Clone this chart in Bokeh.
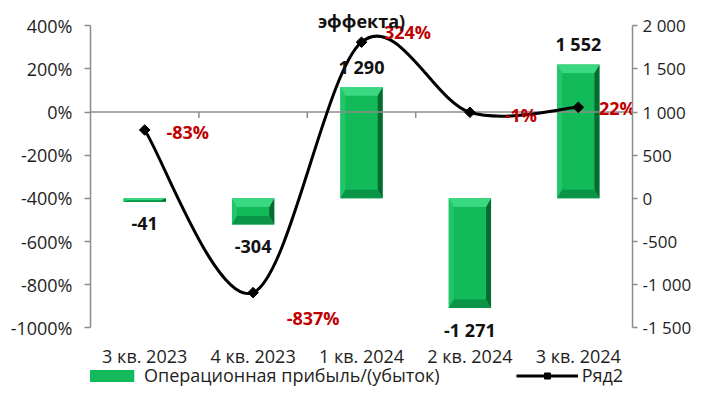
import numpy as np
from bokeh.plotting import figure
from bokeh.models import (Range1d, LinearAxis, FixedTicker, PrintfTickFormatter,
                          ColumnDataSource, Legend, LegendItem)
from bokeh.core.properties import value
from bokeh.embed import file_html
from bokeh.resources import INLINE

# ---------------- data ----------------
categories = ["3 кв. 2023", "4 кв. 2023", "1 кв. 2024", "2 кв. 2024", "3 кв. 2024"]
operating_profit = [-41, -304, 1290, -1271, 1552]
ratio_pct = [-83, -837, 324, -1, 22]
left_ticks = [-1000, -800, -600, -400, -200, 0, 200, 400]
right_ticks = [-1500, -1000, -500, 0, 500, 1000, 1500, 2000]
title_text = "эффекта)"
bar_series_name = "Операционная прибыль/(убыток)"
line_series_name = "Ряд2"

# ---------------- layout / styles ----------------
FONT = "Open Sans"
W, H = 694, 387
LEFT_B, FRAME_W = 90, 544
FRAME_H = H
PX_TOP_TICK, PX_BOT_TICK = 25.3, 327.3      # pixel rows of the first/last tick
PX_CAT_LABEL = 355                           # pixel row of the category labels
ratio_label_dx = [43, 60, 46, 51, 39]
ratio_label_dy = [2, 25, -10, 3, 1]
AXIS_GRAY = "#8C8C8C"
TXT = "#1E1E1E"

n = len(categories)
xs = list(range(n))

lscale = (PX_BOT_TICK - PX_TOP_TICK) / (left_ticks[-1] - left_ticks[0])     # px per %
rscale = (PX_BOT_TICK - PX_TOP_TICK) / (right_ticks[-1] - right_ticks[0])   # px per unit
l_top = left_ticks[-1] + PX_TOP_TICK / lscale
l_bot = left_ticks[0] - (FRAME_H - PX_BOT_TICK) / lscale
r_top = right_ticks[-1] + PX_TOP_TICK / rscale
r_bot = right_ticks[0] - (FRAME_H - PX_BOT_TICK) / rscale

p = figure(width=W, height=H, x_range=Range1d(-0.5, n - 0.5),
           y_range=Range1d(l_bot, l_top), x_axis_location=None,
           output_backend="svg", toolbar_location=None,
           min_border_left=LEFT_B, min_border_right=W - LEFT_B - FRAME_W,
           min_border_top=0, min_border_bottom=0, outline_line_color=None)
p.extra_y_ranges = {"right": Range1d(r_bot, r_top)}
p.xgrid.visible = False
p.ygrid.visible = False

# left axis
ya = p.yaxis[0]
ya.ticker = FixedTicker(ticks=left_ticks)
ya.bounds = (left_ticks[0], left_ticks[-1])
ya.formatter = PrintfTickFormatter(format="%d%%")
ya.axis_line_color = AXIS_GRAY
ya.axis_line_width = 1.5
ya.major_tick_line_color = AXIS_GRAY
ya.major_tick_line_width = 1.5
ya.major_tick_out = 6
ya.major_tick_in = 0
ya.minor_tick_line_color = None
ya.major_label_standoff = 12
ya.major_label_text_font = FONT
ya.major_label_text_font_size = "18px"
ya.major_label_text_color = TXT

# right axis
ra = LinearAxis(y_range_name="right", ticker=FixedTicker(ticks=right_ticks))
ra.bounds = (right_ticks[0], right_ticks[-1])
ra.major_label_overrides = {t: f"{t:,}".replace(",", " ") for t in right_ticks}
ra.axis_line_color = AXIS_GRAY
ra.axis_line_width = 1.5
ra.major_tick_line_color = AXIS_GRAY
ra.major_tick_line_width = 1.5
ra.major_tick_out = 5
ra.major_tick_in = 0
ra.minor_tick_line_color = None
ra.major_label_standoff = 5
ra.major_label_text_font = FONT
ra.major_label_text_font_size = "17px"
ra.major_label_text_color = TXT
p.add_layout(ra, "right")

# ---------------- bars (right axis) ----------------
BW = 0.39
bars = p.vbar(x=xs, top=operating_profit, bottom=0, width=BW, y_range_name="right",
              fill_color="#12BA5A", line_color=None)

bx = 0.046
by_full = 100.0
top_x, top_y, bot_x, bot_y, lef_x, lef_y, rig_x, rig_y = ([] for _ in range(8))
for i, v in zip(xs, operating_profit):
    x0, x1 = i - BW / 2, i + BW / 2
    y0, y1 = min(0, v), max(0, v)
    by = min(by_full, (y1 - y0) / 2)
    top_x.append([x0, x1, x1 - bx, x0 + bx]); top_y.append([y1, y1, y1 - by, y1 - by])
    bot_x.append([x0, x1, x1 - bx, x0 + bx]); bot_y.append([y0, y0, y0 + by, y0 + by])
    lef_x.append([x0, x0, x0 + bx, x0 + bx]); lef_y.append([y0, y1, y1 - by, y0 + by])
    rig_x.append([x1, x1, x1 - bx, x1 - bx]); rig_y.append([y0, y1, y1 - by, y0 + by])
p.patches(lef_x, lef_y, fill_color="#22C66A", line_color=None, y_range_name="right")
p.patches(rig_x, rig_y, fill_color="#076A31", line_color=None, y_range_name="right")
p.patches(top_x, top_y, fill_color="#3AD881", line_color=None, y_range_name="right")
p.patches(bot_x, bot_y, fill_color="#0A9447", line_color=None, y_range_name="right")

# zero line of the category axis with boundary ticks
p.segment(x0=[-0.5], y0=[0], x1=[n - 0.5], y1=[0], line_color=AXIS_GRAY, line_width=1.5)
bounds = [i + 0.5 for i in xs[:-1]]
p.segment(x0=bounds, y0=[0] * len(bounds), x1=bounds,
          y1=[-6 / lscale] * len(bounds), line_color=AXIS_GRAY, line_width=1.5)

# category labels (the category axis has its labels at the bottom of the chart)
p.text(x=xs, y=[l_top - PX_CAT_LABEL / lscale] * n, text=categories,
       text_align="center", text_baseline="middle", text_font=value(FONT),
       text_font_size="18px", text_color=TXT)

# ---------------- smoothed line (left axis) ----------------
xa_ = np.array(xs, float)
ya_ = np.array(ratio_pct, float)
xp = np.concatenate([[xa_[0]], xa_, [xa_[-1]]])
yp = np.concatenate([[ya_[0]], ya_, [ya_[-1]]])
bz = dict(x0=[], y0=[], x1=[], y1=[], cx0=[], cy0=[], cx1=[], cy1=[])
for i in range(n - 1):
    bz["x0"].append(xa_[i]); bz["y0"].append(ya_[i])
    bz["x1"].append(xa_[i + 1]); bz["y1"].append(ya_[i + 1])
    bz["cx0"].append(xa_[i] + (xp[i + 2] - xp[i]) / 6)
    bz["cy0"].append(ya_[i] + (yp[i + 2] - yp[i]) / 6)
    bz["cx1"].append(xa_[i + 1] - (xp[i + 3] - xp[i + 1]) / 6)
    bz["cy1"].append(ya_[i + 1] - (yp[i + 3] - yp[i + 1]) / 6)
p.bezier(source=ColumnDataSource(bz), x0="x0", y0="y0", x1="x1", y1="y1",
         cx0="cx0", cy0="cy0", cx1="cx1", cy1="cy1", line_color="black", line_width=3)
marks = p.scatter(x=xs, y=ratio_pct, marker="square", angle=np.pi / 4, size=7.5,
                  fill_color="black", line_color="black")
legend_line = p.line(x=xs[:1], y=ratio_pct[:1], line_color="black", line_width=3)

# ---------------- labels ----------------
bar_src = ColumnDataSource(dict(
    x=xs, y=operating_profit,
    t=[f"{v:,}".replace(",", " ") for v in operating_profit],
    dy=[22 if v < 0 else -20 for v in operating_profit]))
p.text(x="x", y="y", text="t", y_offset="dy", source=bar_src, y_range_name="right",
       text_align="center", text_baseline="middle", text_font=value(FONT),
       text_font_style="bold", text_font_size="18px", text_color="#111111")

rat_src = ColumnDataSource(dict(
    x=xs, y=ratio_pct, t=[f"{v}%" for v in ratio_pct],
    dx=ratio_label_dx, dy=ratio_label_dy))
p.text(x="x", y="y", text="t", x_offset="dx", y_offset="dy", source=rat_src,
       text_align="center", text_baseline="middle", text_font=value(FONT),
       text_font_style="bold", text_font_size="18px", text_color="#C00000")

# chart title (only its last line is visible, as in the source)
p.text(x=[(n - 1) / 2], y=[left_ticks[-1] + 5 / lscale], text=[title_text],
       text_align="center", text_baseline="alphabetic", text_font=value(FONT),
       text_font_style="bold", text_font_size="18px", text_color="#111111")

# ---------------- legend ----------------
legend = Legend(items=[LegendItem(label=bar_series_name, renderers=[bars]),
                       LegendItem(label=line_series_name, renderers=[legend_line, marks])],
                orientation="horizontal", location=(-12, 0),
                glyph_width=62, glyph_height=15, label_standoff=4, spacing=76,
                padding=0, margin=0, border_line_color=None, background_fill_alpha=0,
                label_text_font=FONT, label_text_font_size="18px", label_text_color=TXT)
p.add_layout(legend)

open("out.html", "w").write(file_html(p, INLINE))
